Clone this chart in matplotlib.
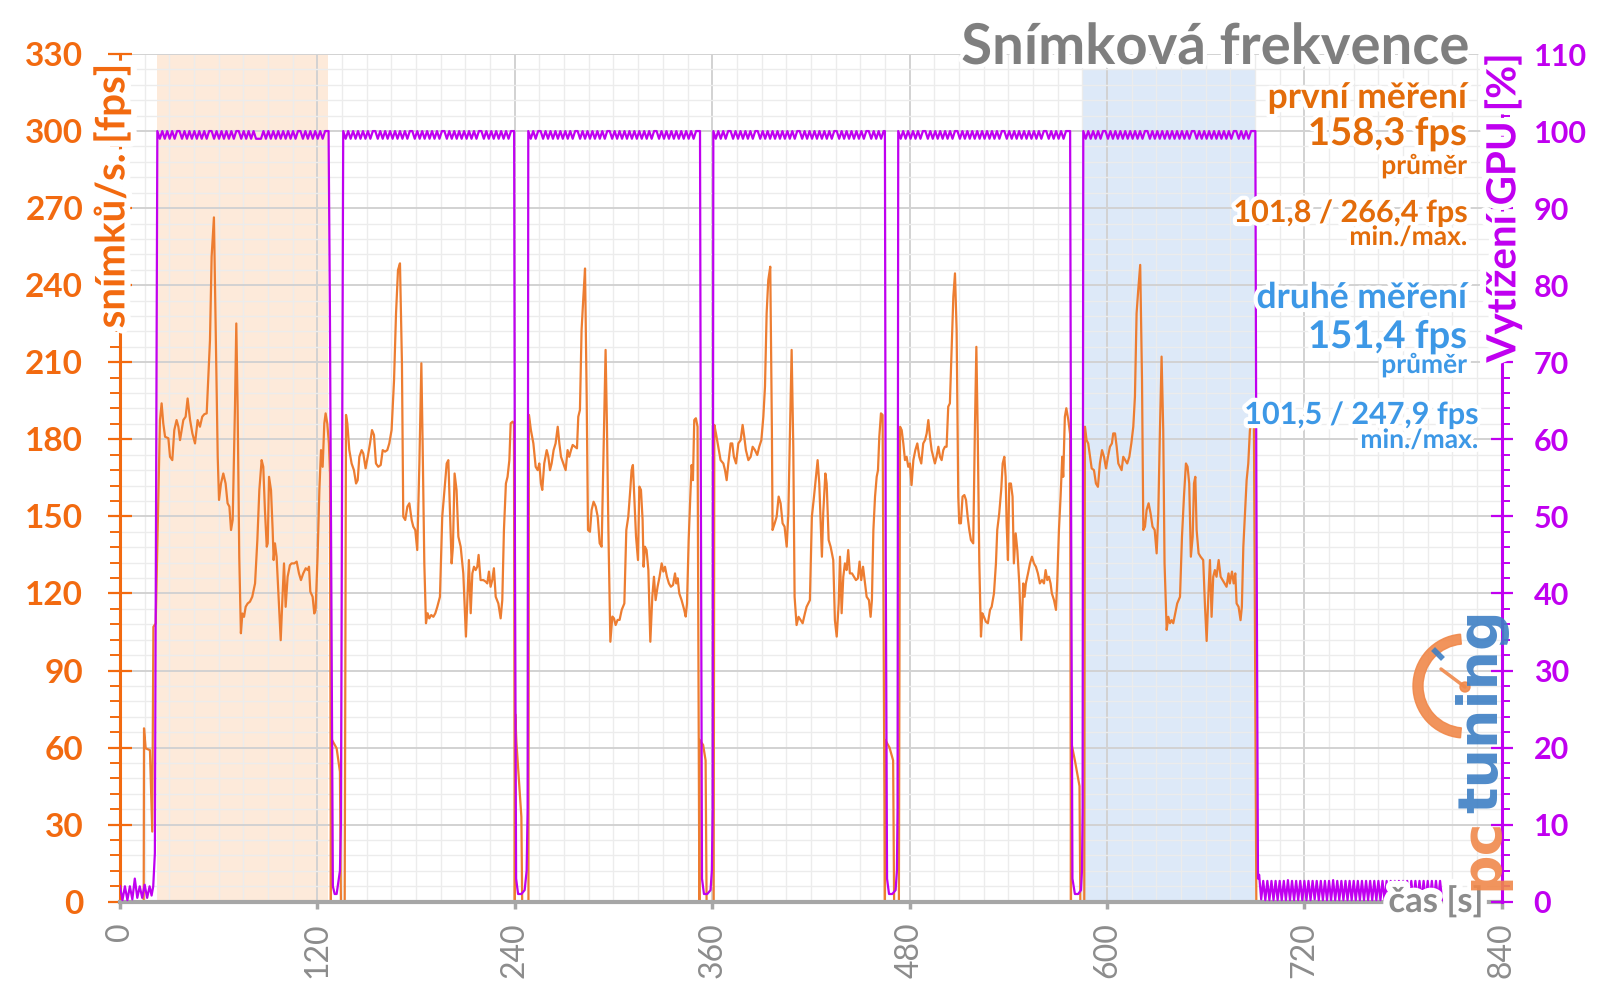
import numpy as np
import matplotlib
matplotlib.use('Agg')
import matplotlib.pyplot as plt
from matplotlib import patheffects as pe
from matplotlib.patches import Wedge, Circle
from matplotlib.ticker import MultipleLocator

plt.rcParams['font.family'] = ['Lato', 'DejaVu Sans']

# ---------------- data: frame rate (time [s], fps) ----------------
fps_pre = [(0, 0), (14.4, 0), (14.6, 67.5), (15.6, 59.7), (18.2, 59.0), (19.6, 27.3),
           (20.3, 107.0), (21.7, 108.3)]

run1 = [(24.3, 187.5), (25.3, 194.0), (26.3, 186.2), (27.4, 181.0), (29.4, 180.4), (30.4, 173.2), (31.8, 171.9), (33.0, 183.6), (34.4, 187.5), (35.5, 184.9),
        (36.5, 179.7), (37.5, 183.6), (38.5, 187.5), (39.9, 188.8), (41.1, 195.9), (42.6, 187.5), (44.0, 182.3), (45.6, 178.4), (47.2, 187.5), (48.6, 184.9),
        (50.0, 188.8), (51.3, 189.8), (52.7, 190.1), (53.7, 204.4), (54.7, 218.6), (55.7, 251.1), (57.1, 266.4), (58.1, 225.1), (59.4, 173.2), (60.2, 156.4),
        (61.4, 162.8), (62.8, 166.7), (64.2, 162.8), (65.4, 155.1), (66.5, 153.8), (67.5, 144.7), (68.5, 148.6), (69.9, 192.7), (70.7, 225.1), (71.5, 192.7),
        (72.5, 134.3), (73.5, 104.5), (74.4, 112.2), (75.4, 110.9), (76.4, 114.8), (77.6, 116.1), (79.0, 116.8), (80.4, 118.7), (82.1, 123.9), (83.5, 140.8),
        (84.7, 160.2), (86.1, 171.9), (87.1, 169.3), (88.1, 152.5), (89.2, 138.2), (89.8, 139.5), (90.6, 165.4), (91.8, 160.2), (92.8, 144.7), (93.4, 133.0),
        (94.2, 139.5), (95.2, 134.3), (96.2, 121.3), (97.7, 101.8), (98.7, 117.4), (99.7, 131.7), (100.7, 114.8), (101.9, 126.5), (103.3, 131.0), (104.3, 131.7),
        (106.0, 131.7), (107.4, 132.4), (108.8, 127.8), (110.0, 125.2), (111.4, 127.8), (112.9, 129.8), (114.1, 129.1), (114.9, 130.4), (115.7, 120.7), (117.1, 118.7),
        (118.1, 112.2), (118.9, 113.5), (120.1, 134.3), (121.2, 160.2), (122.2, 175.8), (123.2, 169.3), (124.2, 186.2), (125.0, 190.1), (126.0, 186.2), (127.0, 178.4),
        (127.6, 166.7), (128.2, 0), (128.5, 63.4), (131.7, 59.7), (133.7, 50.6), (134.3, 0)]

run2 = [(136.6, 0), (137.4, 189.5), (138.2, 186.2), (139.4, 175.8), (140.8, 170.6), (142.2, 168.0), (143.5, 162.8), (144.5, 164.1), (145.5, 173.2), (146.9, 175.8),
        (147.9, 174.5), (149.3, 168.7), (150.6, 173.2), (152.0, 178.4), (153.2, 183.6), (154.4, 181.7), (155.6, 170.6), (157.0, 169.3), (158.5, 170.0), (159.7, 175.8),
        (161.1, 175.2), (162.5, 175.8), (163.7, 178.4), (165.1, 183.6), (166.6, 203.1), (167.8, 229.0), (169.0, 245.9), (170.2, 248.5), (171.4, 209.6), (172.2, 149.9),
        (173.4, 148.6), (174.7, 153.8), (175.9, 155.1), (177.3, 148.6), (178.3, 146.0), (179.5, 144.7), (180.7, 136.9), (182.0, 170.6), (183.2, 209.6), (184.0, 177.1),
        (185.0, 131.7), (186.0, 108.4), (187.0, 112.3), (188.0, 110.3), (189.2, 111.6), (190.5, 110.9), (191.7, 112.3), (192.9, 114.8), (194.5, 118.7), (195.9, 149.9),
        (197.6, 162.8), (198.6, 170.6), (199.6, 171.9), (200.6, 151.2), (201.6, 131.7), (202.4, 138.2), (203.4, 166.7), (204.6, 160.3), (205.7, 142.1), (207.1, 138.2),
        (208.7, 127.8), (210.3, 103.2), (211.3, 120.0), (212.1, 133.0), (213.2, 112.3), (214.2, 127.8), (215.2, 130.4), (216.2, 129.1), (217.2, 130.4), (218.0, 135.0),
        (219.2, 125.2), (220.9, 125.2), (222.3, 124.6), (223.3, 123.9), (224.3, 128.5), (225.3, 122.6), (226.3, 125.2), (227.3, 129.8), (228.4, 118.7), (230.0, 116.1),
        (231.4, 110.3), (232.4, 117.4), (233.4, 144.7), (234.6, 162.8), (235.6, 165.4), (236.7, 171.9), (237.5, 186.2), (238.7, 186.9), (239.5, 186.0), (240.0, 0),
        (240.3, 73.0), (241.0, 62.0), (244.0, 33.0), (244.5, 0)]

run3 = [(248.3, 0), (248.6, 189.5), (249.8, 183.6), (251.3, 178.4), (252.7, 169.3), (253.9, 168.0), (254.9, 170.6), (255.9, 162.8), (256.7, 160.3), (257.9, 170.6),
        (259.4, 175.8), (260.4, 173.2), (261.4, 168.0), (262.4, 170.6), (263.6, 175.8), (264.8, 178.4), (266.1, 184.9), (267.1, 178.4), (268.1, 173.2), (269.5, 170.6),
        (270.9, 168.0), (272.1, 175.8), (273.1, 173.2), (274.2, 175.8), (275.2, 177.8), (276.6, 177.1), (277.8, 176.5), (278.6, 188.8), (279.6, 191.4), (280.6, 222.5),
        (281.7, 235.5), (282.7, 246.5), (283.7, 196.6), (284.5, 144.7), (285.7, 144.0), (286.7, 152.5), (287.9, 155.7), (289.2, 153.8), (290.4, 149.9), (291.6, 139.5),
        (292.8, 138.2), (293.8, 170.6), (294.6, 196.6), (295.2, 214.8), (296.0, 186.2), (296.9, 144.7), (298.1, 101.2), (299.3, 111.0), (300.3, 110.3), (301.3, 107.7),
        (302.5, 109.7), (303.7, 109.7), (305.0, 113.6), (306.6, 116.1), (307.8, 144.7), (309.0, 149.9), (310.2, 160.3), (311.0, 168.0), (311.8, 170.0), (312.7, 156.4),
        (313.7, 142.1), (314.9, 133.0), (315.7, 161.6), (316.7, 160.3), (317.7, 148.6), (318.3, 130.4), (319.1, 138.2), (320.1, 136.9), (321.2, 129.1), (322.4, 101.2),
        (323.6, 118.7), (324.6, 126.5), (325.6, 117.4), (326.8, 122.6), (328.0, 126.5), (329.3, 131.7), (330.3, 128.5), (331.3, 130.4), (332.5, 126.5), (333.7, 123.9),
        (334.9, 122.6), (336.2, 123.3), (337.4, 127.8), (338.2, 123.9), (339.0, 125.9), (340.0, 120.0), (341.4, 117.4), (343.0, 113.6), (343.9, 111.0), (344.7, 116.1),
        (345.7, 140.8), (346.7, 157.7), (347.5, 170.0), (348.3, 164.1), (349.1, 187.5), (350.1, 188.2), (351.1, 184.9), (352.2, 0), (352.4, 63.0), (354.5, 61.0),
        (356.0, 55.0), (356.6, 0)]

run4 = [(360.9, 0), (361.3, 185.6), (362.3, 182.3), (363.7, 177.1), (365.1, 171.9), (366.8, 170.6), (367.8, 168.0), (368.8, 164.1), (369.8, 170.6), (371.2, 178.4),
        (372.2, 178.4), (373.2, 173.2), (374.5, 170.6), (375.9, 178.4), (377.3, 179.7), (378.5, 185.6), (379.5, 181.0), (380.5, 175.8), (382.0, 171.9), (383.4, 173.2),
        (384.6, 177.1), (386.0, 175.8), (387.4, 173.9), (388.6, 177.1), (389.9, 179.7), (391.1, 188.8), (392.1, 200.5), (393.1, 229.0), (394.1, 242.0), (395.3, 247.2),
        (396.3, 183.6), (396.7, 144.7), (398.0, 147.3), (399.2, 149.9), (400.4, 157.7), (401.6, 155.1), (402.8, 147.3), (404.0, 146.0), (405.3, 138.2), (406.3, 151.2),
        (407.3, 183.6), (408.3, 214.8), (409.3, 177.1), (410.1, 118.7), (411.3, 107.7), (412.5, 110.9), (413.8, 109.6), (415.0, 108.4), (416.4, 112.3), (417.4, 114.8),
        (419.4, 117.4), (420.6, 149.9), (421.9, 157.7), (423.1, 165.4), (424.1, 171.9), (425.1, 162.8), (426.1, 144.7), (426.7, 134.3), (427.5, 151.2), (428.8, 166.7),
        (429.6, 162.8), (430.8, 140.8), (432.0, 138.2), (433.6, 133.0), (434.6, 109.6), (435.7, 103.2), (436.9, 116.1), (437.7, 134.3), (438.7, 112.3), (439.7, 126.5),
        (440.7, 131.7), (441.7, 129.1), (442.7, 136.9), (443.7, 127.8), (445.0, 127.8), (446.2, 126.5), (447.4, 125.2), (448.6, 125.9), (449.6, 132.4), (450.6, 125.2),
        (451.7, 130.4), (452.7, 125.2), (453.9, 118.7), (455.3, 117.4), (456.3, 110.9), (457.1, 117.4), (458.0, 144.7), (459.0, 157.7), (460.0, 165.4), (460.8, 168.0),
        (461.6, 181.0), (462.6, 190.1), (463.6, 189.5), (465.0, 0), (465.2, 63.0), (467.8, 60.0), (470.0, 55.0), (470.6, 0)]

run5 = [(473.5, 0), (474.2, 184.9), (475.2, 183.6), (476.2, 178.4), (477.2, 171.9), (478.2, 173.2), (479.2, 169.3), (480.2, 170.6), (481.2, 162.2), (482.3, 171.9),
        (483.5, 175.8), (484.7, 178.4), (485.9, 173.2), (487.1, 170.6), (488.3, 178.4), (489.4, 179.7), (490.4, 182.3), (491.4, 187.5), (492.4, 181.0), (493.4, 175.8),
        (494.4, 173.2), (495.4, 170.6), (496.4, 173.2), (497.5, 177.1), (498.5, 173.2), (499.5, 171.9), (500.5, 175.8), (501.5, 177.1), (502.5, 177.1), (503.5, 192.7),
        (504.5, 194.0), (505.6, 216.0), (506.6, 235.5), (507.6, 244.6), (508.6, 222.5), (509.6, 157.7), (510.2, 147.3), (511.2, 147.3), (512.2, 157.7), (513.3, 158.3),
        (514.3, 156.4), (515.3, 149.9), (516.3, 144.7), (517.3, 140.8), (518.7, 139.5), (519.7, 183.6), (520.6, 216.0), (521.4, 183.6), (522.4, 131.7), (523.4, 103.2),
        (524.2, 112.3), (525.2, 110.9), (526.4, 109.0), (527.6, 108.4), (528.9, 113.6), (529.9, 114.8), (531.3, 120.0), (532.5, 131.7), (533.3, 144.7), (534.5, 151.2),
        (535.7, 160.3), (536.6, 170.6), (537.6, 173.2), (538.4, 165.4), (539.0, 147.3), (539.8, 133.0), (540.6, 162.8), (541.6, 162.8), (542.6, 157.7), (543.4, 131.7),
        (544.5, 143.4), (545.5, 136.9), (546.7, 123.9), (547.9, 101.9), (549.1, 123.9), (549.9, 118.7), (550.7, 123.9), (552.0, 127.8), (553.2, 131.7), (554.4, 134.3),
        (555.6, 131.7), (556.8, 130.4), (558.0, 127.8), (559.2, 123.9), (560.5, 125.2), (561.7, 123.9), (562.7, 129.1), (563.7, 125.2), (564.7, 126.5), (565.7, 123.9),
        (566.5, 120.0), (567.8, 117.4), (569.0, 113.6), (569.8, 125.2), (570.8, 144.7), (571.8, 157.7), (572.8, 173.2), (573.4, 165.4), (574.4, 188.8), (575.3, 192.1),
        (576.5, 187.5), (577.6, 182.0), (578.1, 0), (578.3, 62.0), (580.5, 55.0), (583.3, 45.0), (583.8, 0)]

run6 = [(586.2, 0), (586.6, 184.9), (587.6, 179.7), (588.6, 178.4), (589.7, 173.2), (590.7, 168.7), (592.1, 168.0), (593.3, 162.8), (594.5, 161.5), (595.7, 170.6),
        (597.0, 175.8), (598.2, 173.2), (599.4, 168.7), (600.6, 173.2), (601.8, 177.1), (603.0, 178.4), (603.8, 182.3), (604.9, 182.3), (605.9, 177.1), (606.9, 170.6),
        (607.9, 169.3), (608.9, 168.0), (609.9, 173.2), (611.1, 171.9), (612.3, 170.6), (613.6, 173.2), (614.8, 178.4), (616.0, 184.9), (617.0, 196.6), (618.0, 229.0),
        (619.0, 238.1), (620.2, 247.9), (621.3, 203.1), (622.1, 144.7), (623.1, 146.0), (624.1, 152.5), (625.3, 155.1), (626.5, 151.2), (627.7, 146.0), (629.0, 144.7),
        (630.2, 135.6), (631.2, 151.2), (632.2, 183.6), (633.2, 212.2), (634.2, 183.6), (635.0, 131.7), (636.3, 105.8), (637.3, 110.9), (638.3, 108.4), (639.3, 109.6),
        (640.3, 108.4), (641.5, 112.3), (642.7, 116.1), (644.4, 118.7), (645.6, 142.1), (646.8, 157.7), (648.0, 170.6), (649.0, 169.3), (650.0, 162.8), (651.0, 134.3),
        (652.1, 142.1), (652.9, 162.8), (653.7, 165.4), (654.5, 144.7), (655.7, 135.6), (656.9, 134.3), (658.5, 133.0), (659.6, 114.8), (660.6, 101.5), (661.6, 118.7),
        (662.6, 133.0), (663.6, 110.9), (664.6, 126.5), (665.6, 129.1), (666.6, 126.5), (667.9, 133.0), (669.1, 126.5), (670.3, 125.2), (671.5, 123.9), (672.7, 122.6),
        (673.9, 127.8), (674.7, 123.9), (676.0, 128.5), (677.0, 123.9), (678.0, 127.8), (678.8, 116.1), (680.0, 114.8), (681.2, 109.6), (682.0, 114.8), (682.9, 138.2),
        (683.9, 151.2), (684.9, 164.1), (685.9, 170.6), (686.9, 183.6), (687.9, 187.5), (689.3, 190.0), (690.8, 0), (800.0, 0)]

# ---------------- data: GPU load [%] ----------------
gpu_pre = [(0, 2.0), (1.5, 0.2), (3.0, 2.0), (4.5, 0.2), (6.0, 2.0), (7.5, 0.3), (9.0, 3.0), (10.5, 0.5),
           (12.0, 2.0), (13.5, 0.5), (15.0, 2.2), (16.5, 0.5), (18.0, 2.0), (19.2, 0.8), (20.2, 2.0), (21.2, 6.3)]

gpu_step = 1.5            # logging interval during the runs
gpu_run_starts = [22.7, 135.7, 248.2, 360.7, 473.1, 585.6]

gpu_run1 = [100, 99, 100, 99, 100, 99, 100, 99, 100, 100,
            99, 100, 99, 100, 99, 100, 99, 100, 99, 100,
            99, 100, 100, 99, 100, 99, 100, 99, 100, 99,
            100, 99, 100, 100, 99, 100, 99, 100, 99, 100,
            99, 99, 99, 100, 99, 100, 99, 100, 99, 100,
            99, 100, 99, 100, 99, 100, 99, 100, 100, 99,
            100, 99, 100, 99, 100, 99, 100, 99, 100, 100]
gpu_run2 = [100, 99, 100, 99, 100, 99, 100, 99, 100, 99,
            100, 99, 100, 100, 99, 100, 99, 100, 99, 100,
            99, 100, 99, 100, 99, 100, 99, 100, 100, 99,
            100, 99, 100, 99, 100, 99, 100, 99, 100, 99,
            100, 100, 99, 100, 99, 100, 99, 100, 99, 100,
            99, 100, 99, 100, 99, 100, 100, 99, 100, 99,
            100, 99, 100, 99, 100, 99, 100, 99, 100, 100]
gpu_run3 = [100, 99, 100, 99, 100, 100, 99, 100, 99, 100,
            99, 100, 99, 100, 99, 100, 99, 100, 99, 100,
            100, 99, 100, 99, 100, 99, 100, 99, 100, 99,
            100, 99, 100, 100, 99, 100, 99, 100, 99, 100,
            99, 100, 99, 100, 99, 100, 99, 100, 99, 100,
            99, 100, 100, 99, 100, 99, 100, 99, 100, 99,
            100, 99, 100, 99, 100, 99, 100, 99, 100, 100]
gpu_run4 = [100, 99, 100, 99, 100, 99, 100, 100, 99, 100,
            99, 100, 99, 100, 99, 100, 99, 100, 100, 99,
            100, 99, 100, 99, 100, 99, 100, 99, 100, 99,
            100, 99, 100, 99, 100, 100, 99, 100, 99, 100,
            99, 100, 99, 100, 99, 100, 99, 100, 99, 100,
            100, 99, 100, 99, 100, 99, 100, 99, 100, 99,
            100, 99, 100, 100, 99, 100, 99, 100, 99, 100]
gpu_run5 = [100, 99, 100, 99, 100, 99, 100, 99, 100, 99,
            100, 100, 99, 100, 99, 100, 99, 100, 99, 100,
            99, 100, 99, 100, 100, 99, 100, 99, 100, 99,
            100, 99, 100, 99, 100, 99, 100, 99, 100, 99,
            100, 99, 100, 100, 99, 100, 99, 100, 99, 100,
            99, 100, 99, 100, 99, 100, 99, 100, 99, 100,
            100, 99, 100, 99, 100, 99, 100, 99, 100, 100]
gpu_run6 = [100, 99, 100, 99, 100, 99, 100, 99, 100, 100,
            99, 100, 99, 100, 99, 100, 99, 100, 99, 100,
            99, 100, 99, 100, 99, 100, 100, 99, 100, 99,
            100, 99, 100, 99, 100, 99, 100, 99, 100, 99,
            100, 99, 100, 99, 100, 100, 99, 100, 99, 100,
            99, 100, 99, 100, 99, 100, 99, 100, 99, 100,
            99, 100, 100, 99, 100, 99, 100, 99, 100, 100]
gpu_runs = [gpu_run1, gpu_run2, gpu_run3, gpu_run4, gpu_run5, gpu_run6]

gpu_gaps = [
    [(126.8, 100), (127.6, 77), (129.4, 2), (130.5, 1), (131.7, 1), (133.7, 4), (134.3, 10)],
    [(239.6, 100), (240.1, 45), (240.8, 3), (242.0, 1), (244.0, 1), (246.0, 1.5), (247.2, 4), (247.8, 12)],
    [(352.6, 100), (353.1, 55), (353.8, 3), (355.0, 1), (357.0, 1), (359.0, 1.5), (359.8, 4), (360.3, 12)],
    [(465.0, 100), (465.5, 45), (466.3, 3), (467.5, 1), (469.5, 1), (471.5, 1.5), (472.3, 4), (472.7, 12)],
    [(577.6, 100), (578.2, 50), (579.0, 3), (580.5, 1), (582.5, 1), (584.2, 1.5), (584.8, 4), (585.2, 12)],
    [(690.2, 100), (690.8, 55), (691.8, 3)],
]

gpu_idle_start = 692.5
gpu_idle_step = 1.25
gpu_idle = [3.5, 0.3, 2.7, 0.2, 2.7, 0.2, 2.7, 0.2, 2.7, 0.2,
            2.7, 0.2, 2.7, 0.2, 2.8, 0.2, 2.7, 0.2, 2.7, 0.2,
            2.7, 0.2, 2.7, 0.2, 2.7, 0.2, 2.7, 0.3, 2.7, 0.2,
            2.7, 0.2, 2.7, 0.2, 2.7, 0.2, 2.8, 0.2, 2.7, 0.2,
            2.7, 0.2, 2.7, 0.2, 2.7, 0.2, 2.7, 0.2, 2.7, 0.2,
            2.7, 0.2, 2.7, 0.2, 2.7, 0.2, 2.7, 0.2, 2.7, 0.2,
            2.7, 0.2, 2.7, 0.2, 2.7, 0.2, 2.7, 0.2, 2.7, 0.2,
            2.7, 0.2, 2.7, 0.2, 2.7, 0.2, 2.7, 0.2, 2.7, 0.2,
            2.7, 0.2, 2.7, 0.2, 2.7, 0.2, 2.7, 0.2, 2.7, 0.2]

shade_first = (22.3, 126.6)
shade_second = (585.6, 690.2)

# ---------------- assemble series ----------------
fps_pts = fps_pre + run1 + run2 + run3 + run4 + run5 + run6
fps_t = np.array([p[0] for p in fps_pts])
fps_v = np.array([p[1] for p in fps_pts])

gpu_t, gpu_v = [p[0] for p in gpu_pre], [p[1] for p in gpu_pre]
for start, vals, gap in zip(gpu_run_starts, gpu_runs, gpu_gaps):
    gpu_t += list(start + gpu_step * np.arange(len(vals)))
    gpu_v += vals
    gpu_t += [p[0] for p in gap]
    gpu_v += [p[1] for p in gap]
gpu_t += list(gpu_idle_start + gpu_idle_step * np.arange(len(gpu_idle)))
gpu_v += gpu_idle

# ---------------- colours ----------------
c_fps = '#ed7d31'
c_left = '#f26a10'
c_gpu = '#c000f0'
c_txt_or = '#e36c0a'
c_txt_bl = '#3d98e6'
c_gray = '#8c8c8c'

fig = plt.figure(figsize=(16, 10), dpi=100)
ax = fig.add_axes([0.075, 0.0983, 0.8636, 0.8477])
ax.set_xlim(0, 840)
ax.set_ylim(0, 330)
ax.xaxis.set_major_locator(MultipleLocator(120))
ax.xaxis.set_minor_locator(MultipleLocator(15))
ax.yaxis.set_major_locator(MultipleLocator(30))
ax.yaxis.set_minor_locator(MultipleLocator(6))
ax.set_axisbelow(True)
ax.grid(which='major', color='#d2d2d2', lw=1.4)
ax.grid(which='minor', color='#ececec', lw=1.0)

ax.axvspan(*shade_first, ymin=0, ymax=1, color='#fdeada', lw=0, zorder=0.1)
ax.axvspan(*shade_second, ymin=0, ymax=324 / 330, color='#dde9f8', lw=0, zorder=0.1)

ax.plot(fps_t, fps_v, color=c_fps, lw=1.6, zorder=2)

ax.tick_params(axis='y', which='major', direction='inout', length=17, width=1.6,
               color=c_left, labelcolor=c_left, labelsize=24, pad=18)
ax.tick_params(axis='y', which='minor', direction='out', length=7, width=1.4, color=c_left)
ax.tick_params(axis='x', which='major', direction='out', length=5, width=2.5,
               color='#a6a6a6', labelcolor=c_gray, labelsize=23, pad=10, labelrotation=90)
ax.tick_params(axis='x', which='minor', length=0)
for lab in ax.get_yticklabels():
    lab.set_fontweight('bold')
ax.spines['left'].set_color(c_left)
ax.spines['left'].set_linewidth(2.2)
ax.spines['bottom'].set_color('#a6a6a6')
ax.spines['bottom'].set_linewidth(3)
ax.spines['top'].set_visible(False)
ax.spines['right'].set_visible(False)

ax2 = ax.twinx()
ax2.set_ylim(0, 110)
ax2.yaxis.set_major_locator(MultipleLocator(10))
ax2.yaxis.set_minor_locator(MultipleLocator(2))
ax2.plot(gpu_t, gpu_v, color=c_gpu, lw=1.6)
ax2.tick_params(axis='y', which='major', direction='inout', length=16, width=1.6,
                color=c_gpu, labelcolor=c_gpu, labelsize=22, pad=15)
ax2.tick_params(axis='y', which='minor', direction='out', length=6, width=1.4, color=c_gpu)
for lab in ax2.get_yticklabels():
    lab.set_fontweight('bold')
for s in ['left', 'top', 'bottom']:
    ax2.spines[s].set_visible(False)
ax2.spines['right'].set_color(c_gpu)
ax2.spines['right'].set_linewidth(2.2)

# ---------------- overlay texts (pixel coordinates) ----------------
ov = fig.add_axes([0, 0, 1, 1])
ov.set_xlim(0, 1600)
ov.set_ylim(1000, 0)
ov.axis('off')

glow = [pe.withStroke(linewidth=6, foreground='white')]
glow_big = [pe.withStroke(linewidth=9, foreground='white')]

ov.text(1469, 64, 'Snímková frekvence', fontsize=40.5, fontweight='bold', color='#7f7f7f',
        ha='right', va='baseline', path_effects=glow)

ov.text(1467, 108, 'první měření', fontsize=25.5, fontweight='bold', color=c_txt_or, ha='right', va='baseline', path_effects=glow)
ov.text(1467, 145, '158,3 fps', fontsize=27.5, fontweight='bold', color=c_txt_or, ha='right', va='baseline', path_effects=glow)
ov.text(1467, 174, 'průměr', fontsize=19, fontweight='bold', color=c_txt_or, ha='right', va='baseline', path_effects=glow)
ov.text(1467, 222, '101,8 / 266,4 fps', fontsize=22, fontweight='bold', color=c_txt_or, ha='right', va='baseline', path_effects=glow)
ov.text(1467, 245, 'min./max.', fontsize=19, fontweight='bold', color=c_txt_or, ha='right', va='baseline', path_effects=glow)

ov.text(1467, 308, 'druhé měření', fontsize=25.5, fontweight='bold', color=c_txt_bl, ha='right', va='baseline', path_effects=glow)
ov.text(1467, 348, '151,4 fps', fontsize=27.5, fontweight='bold', color=c_txt_bl, ha='right', va='baseline', path_effects=glow)
ov.text(1467, 373, 'průměr', fontsize=19, fontweight='bold', color=c_txt_bl, ha='right', va='baseline', path_effects=glow)
ov.text(1478, 424, '101,5 / 247,9 fps', fontsize=22, fontweight='bold', color=c_txt_bl, ha='right', va='baseline', path_effects=glow)
ov.text(1478, 448, 'min./max.', fontsize=19, fontweight='bold', color=c_txt_bl, ha='right', va='baseline', path_effects=glow)

ov.text(112, 196, 'snímků/s. [fps]', rotation=90, ha='center', va='center', fontsize=29,
        fontweight='bold', color=c_left, path_effects=glow_big)
ov.text(1503, 208, 'Vytížení GPU [%]', rotation=90, ha='center', va='center', fontsize=29,
        fontweight='bold', color=c_gpu, path_effects=glow_big)
ov.text(1436, 912, 'čas [s]', ha='center', va='baseline', fontsize=25, fontweight='bold',
        color=c_gray, path_effects=glow_big)

# pctuning watermark
ov.add_patch(Wedge((1465, 686), 52, 95, 265, width=10, color='#f0884a', alpha=0.9))
ov.add_patch(Circle((1465, 687), 5, color='#f0884a', alpha=0.9))
ov.plot([1465, 1441], [687, 669], color='#f0884a', lw=2.5, solid_capstyle='round', alpha=0.9)
ov.plot([1435, 1441], [651, 657], color='#3d7fc4', lw=4, alpha=0.9)
ov.text(1497, 890, 'pc', rotation=90, rotation_mode='anchor', ha='left', va='baseline',
        fontsize=40, fontweight='bold', family='DejaVu Sans', color='#f0884a', alpha=0.9)
ov.text(1497, 813, 'tuning', rotation=90, rotation_mode='anchor', ha='left', va='baseline',
        fontsize=40, fontweight='bold', family='DejaVu Sans', color='#3d7fc4', alpha=0.9)

fig.savefig('out.png', dpi=100)
